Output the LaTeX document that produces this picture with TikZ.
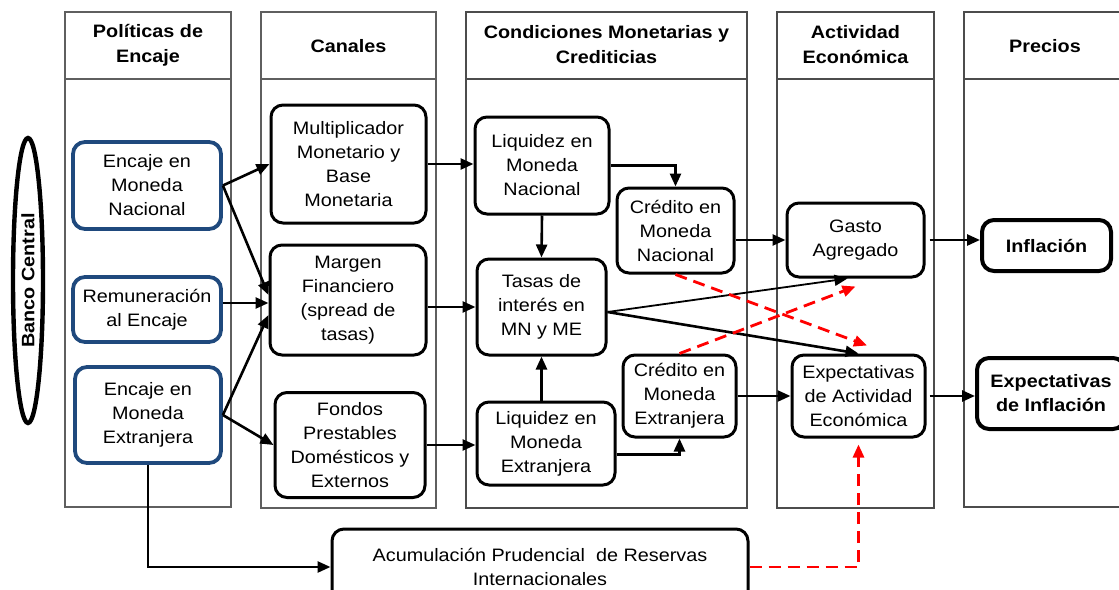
\documentclass[tikz,border=0pt]{standalone}
\usepackage{fontspec}
\setmainfont{Liberation Sans}[FakeStretch=1.1]
\usetikzlibrary{arrows.meta,shapes.geometric}
\definecolor{encblue}{RGB}{31,73,125}
\definecolor{colgray}{RGB}{95,95,95}
\tikzset{
  colframe/.style={draw=colgray, line width=1.6pt},
  darkframe/.style={draw=colgray!80!black, line width=2.4pt},
  hdr/.style={font=\bfseries\fontsize{18}{25}\selectfont, align=center},
  chbox/.style={draw, line width=3pt, rounded corners=12pt, align=center, inner sep=0pt, font=\fontsize{18}{24}\selectfont},
  encbox/.style={chbox, draw=encblue, line width=3.8pt},
  precbox/.style={chbox, line width=4pt, font=\bfseries\fontsize{18}{24}\selectfont},
  arr/.style={line width=2.6pt, -{Triangle[length=13pt,width=11pt]}},
  thinarr/.style={arr, line width=1.8pt},
  redarr/.style={arr, red, line width=2.8pt, dash pattern=on 12pt off 7pt},
}
\begin{document}
\begin{tikzpicture}[x=1pt,y=-1pt]
  \useasboundingbox (0,0) rectangle (1119,589);
  % columnas
  \draw[colframe] (65,12) rectangle (231,507);   \draw[colframe] (65,79) -- (231,79);
  \draw[colframe] (261,12) rectangle (436,508);  \draw[colframe] (261,79) -- (436,79);
  \draw[darkframe] (466,12) rectangle (747,508);  \draw[darkframe] (466,79) -- (747,79);
  \draw[darkframe] (777,12) rectangle (934,508);  \draw[darkframe] (777,79) -- (934,79);
  \draw[darkframe] (964,12) rectangle (1135,507); \draw[darkframe] (964,79) -- (1135,79);
  \node[hdr] (hpol) at (148,45) {Políticas de\\Encaje};
  \node[hdr] (hcan) at (348.5,46) {Canales};
  \node[hdr] (hcond) at (606.5,45) {Condiciones Monetarias y\\Crediticias};
  \node[hdr] (hact) at (855.5,45) {Actividad\\Económica};
  \node[hdr] (hpre) at (1045,46) {Precios};
  \node[draw, ellipse, line width=4.4pt, rotate=90, minimum width=285pt, minimum height=30pt, inner sep=0pt,
        font=\bfseries\fontsize{18}{24}\selectfont] (bc) at (28,280.5) {Banco Central};
  % cajas
  \node[encbox, minimum width=148pt, minimum height=87pt] (enmn) at (147,185.5) {Encaje en\\Moneda\\Nacional};
  \node[encbox, minimum width=148pt, minimum height=65pt] (rem) at (147,309.5) {Remuneración\\al Encaje};
  \node[encbox, minimum width=146pt, minimum height=96pt] (enme) at (148,415) {Encaje en\\Moneda\\Extranjera};
  \node[chbox, minimum width=155pt, minimum height=118pt] (mult) at (348.5,164) {Multiplicador\\Monetario y\\Base\\Monetaria};
  \node[chbox, minimum width=156pt, minimum height=110pt] (marg) at (348,300) {Margen\\Financiero\\(spread de\\tasas)};
  \node[chbox, minimum width=150pt, minimum height=105pt] (fond) at (350,445) {Fondos\\Prestables\\Domésticos y\\Externos};
  \node[chbox, minimum width=134pt, minimum height=97pt] (liqmn) at (542,165.5) {Liquidez en\\Moneda\\Nacional};
  \node[chbox, minimum width=117pt, minimum height=85pt] (crmn) at (675.5,230.5) {Crédito en\\Moneda\\Nacional};
  \node[chbox, minimum width=129pt, minimum height=96pt] (tasas) at (541.5,307) {Tasas de\\interés en\\MN y ME};
  \node[chbox, minimum width=138pt, minimum height=83pt] (liqme) at (546,443.5) {Liquidez en\\Moneda\\Extranjera};
  \node[chbox, minimum width=113pt, minimum height=82pt] (crme) at (679.5,396) {Crédito en\\Moneda\\Extranjera};
  \node[chbox, minimum width=137pt, minimum height=74pt] (gasto) at (855.5,240) {Gasto\\Agregado};
  \node[chbox, minimum width=133pt, minimum height=82pt] (expact) at (858.5,396) {Expectativas\\de Actividad\\Económica};
  \node[precbox, minimum width=129pt, minimum height=51pt] (infl) at (1046.5,245.5) {Inflación};
  \node[precbox, minimum width=148pt, minimum height=71pt] (expinf) at (1051,393.5) {Expectativas\\de Inflación};
  \node[chbox, minimum width=416pt, minimum height=76pt] (acum) at (540,567) {Acumulación Prudencial\ \ de Reservas\\Internacionales};
  % flechas
  \draw[arr] (enmn.east) -- (mult.west);
  \draw[arr] (enmn.east) -- ([yshift=5pt]marg.west);
  \draw[arr] ([yshift=6.5pt]rem.east) -- ([yshift=-3pt]marg.west);
  \draw[arr] (enme.east) -- ([yshift=-15pt]marg.west);
  \draw[arr] (enme.east) -- (fond.west);
  \draw[arr] (mult.east) -- (mult.east -| liqmn.west);
  \draw[arr] (marg.east |- tasas.west) -- (tasas.west);
  \draw[arr] (fond.east) -- (fond.east -| liqme.west);
  \draw[arr] (liqmn.east) -| (crmn.north);
  \draw[arr] (liqmn.south) -- (tasas.north);
  \draw[arr] (tasas.south |- liqme.north) -- (tasas.south);
  \draw[arr] ([yshift=-11pt]liqme.east) -| (crme.south);
  \draw[arr] (crmn.east |- gasto.west) -- (gasto.west);
  \draw[arr] (crme.east) -- (expact.west);
  \draw[thinarr] ([yshift=-5pt]tasas.east) -- ([xshift=-8pt]gasto.south);
  \draw[arr] ([yshift=-5pt]tasas.east) -- (expact.north);
  \draw[redarr] (crmn.south) -- ([xshift=8.5pt,yshift=8pt]expact.north);
  \draw[redarr] (crme.north) -- ([yshift=-8pt]gasto.south);
  \draw[arr] ([xshift=4pt]gasto.east) -- (gasto.east -| infl.west);
  \draw[arr] ([xshift=3pt]expact.east) -- (expact.east -| expinf.west);
  \draw[arr] (enme.south) |- (acum.west);
  \draw[redarr] (acum.east) -| ([yshift=-6pt]expact.south);
\end{tikzpicture}
\end{document}
